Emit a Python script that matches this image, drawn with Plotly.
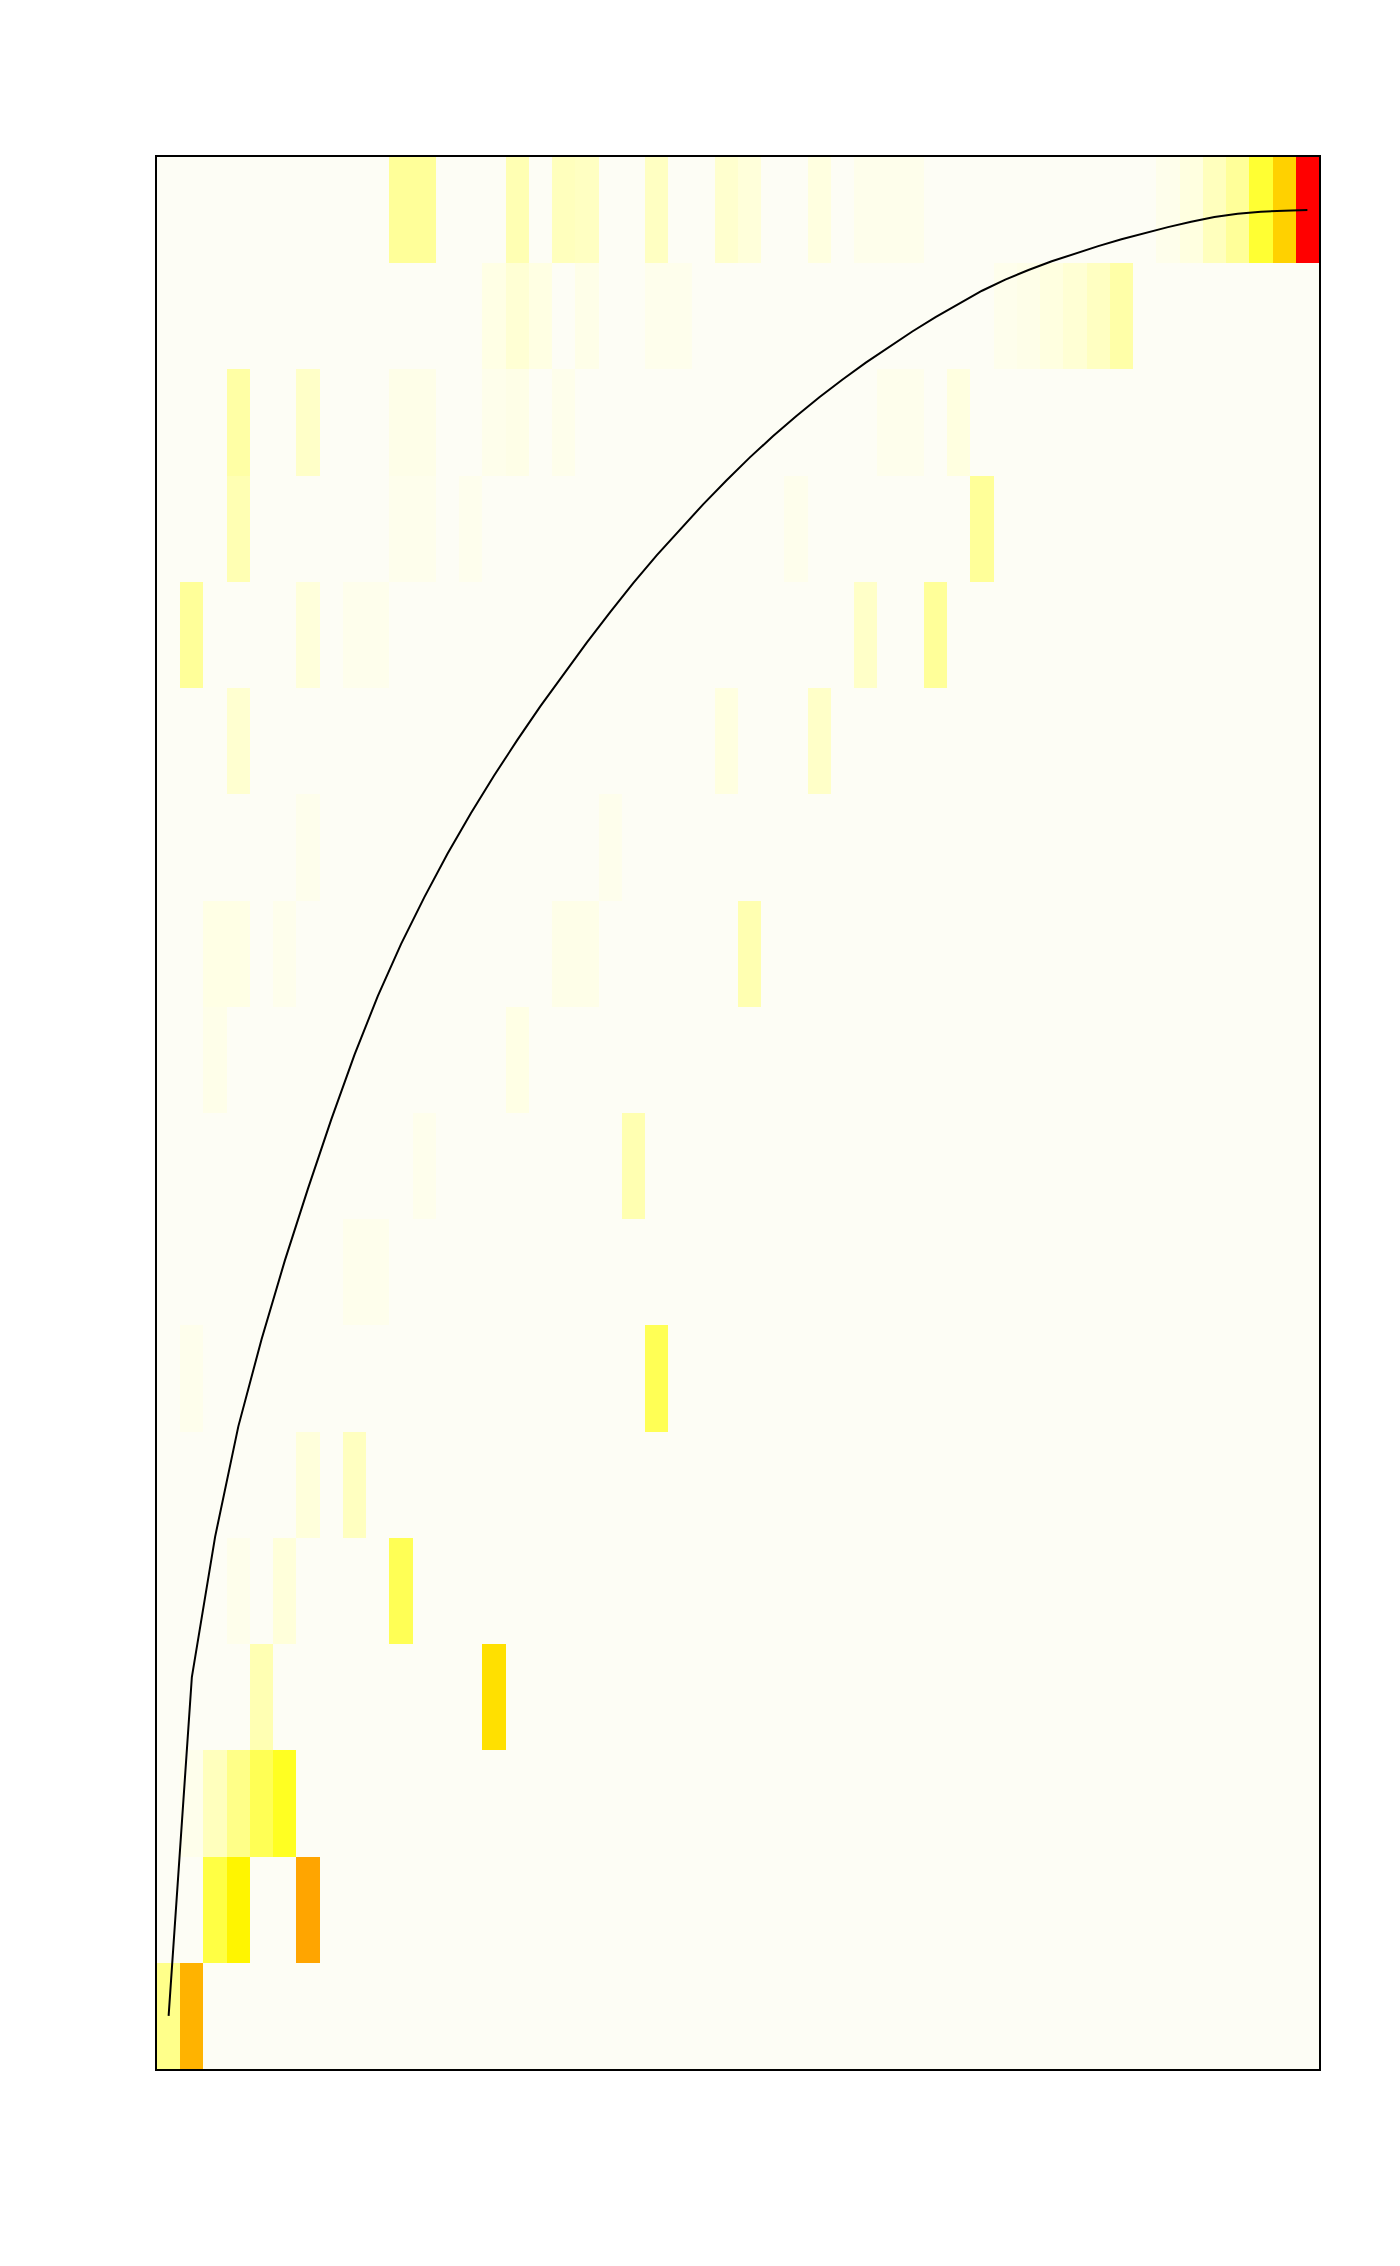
import plotly.graph_objects as go

n_cols = 50
n_rows = 18

# Non-background cells: (row from bottom, column from left, intensity 0..1)
cell_rows = ([0] * 2 + [1] * 3 + [2] * 5 + [3] * 2 + [4] * 3 + [5] * 2 + [6] * 2 +
             [7] * 2 + [8] * 2 + [9] * 2 + [10] * 6 + [11] * 2 + [12] * 3 +
             [13] * 6 + [14] * 6 + [15] * 10 + [16] * 12 + [17] * 19)
cell_cols = [0, 1,
             2, 3, 6,
             1, 2, 3, 4, 5,
             4, 14,
             3, 5, 10,
             6, 8,
             1, 21,
             8, 9,
             11, 20,
             2, 15,
             2, 3, 5, 17, 18, 25,
             6, 19,
             3, 24, 28,
             1, 6, 8, 9, 30, 33,
             3, 10, 11, 13, 27, 35,
             3, 6, 10, 11, 14, 15, 17, 31, 32, 34,
             14, 15, 16, 18, 21, 22, 36, 37, 38, 39, 40, 41,
             10, 11, 15, 17, 18, 21, 24, 25, 28, 30, 31, 32, 43, 44, 45, 46, 47, 48, 49]
cell_vals = [0.215, 0.60,
             0.283, 0.39, 0.70,
             0.04, 0.14, 0.217, 0.267, 0.32,
             0.156, 0.45,
             0.04, 0.09, 0.267,
             0.088, 0.134,
             0.035, 0.267,
             0.035, 0.035,
             0.035, 0.16,
             0.045, 0.06,
             0.06, 0.06, 0.035, 0.05, 0.05, 0.16,
             0.035, 0.035,
             0.107, 0.08, 0.12,
             0.20, 0.088, 0.035, 0.035, 0.12, 0.20,
             0.156, 0.035, 0.035, 0.03, 0.035, 0.20,
             0.18, 0.12, 0.05, 0.05, 0.04, 0.055, 0.04, 0.035, 0.035, 0.08,
             0.06, 0.10, 0.07, 0.05, 0.035, 0.035, 0.035, 0.05, 0.08, 0.10, 0.13, 0.175,
             0.20, 0.20, 0.156, 0.14, 0.13, 0.13, 0.11, 0.09, 0.08, 0.04, 0.04, 0.04,
             0.04, 0.08, 0.14, 0.20, 0.30, 0.50, 1.0]
assert len(cell_rows) == len(cell_cols) == len(cell_vals)

# Cumulative curve (row units, row centres at 1..18) read at each column centre
curve_y = [1.00, 4.19, 5.51, 6.55, 7.37, 8.11, 8.79, 9.44, 10.05, 10.60,
           11.09, 11.53, 11.94, 12.32, 12.675, 13.01, 13.33, 13.635, 13.93, 14.215,
           14.49, 14.75, 14.995, 15.23, 15.455, 15.67, 15.87, 16.06, 16.238, 16.406,
           16.564, 16.714, 16.857, 16.993, 17.121, 17.241, 17.346, 17.436, 17.518, 17.593,
           17.661, 17.725, 17.785, 17.84, 17.89, 17.935, 17.965, 17.985, 17.995, 18.00]

x_centres = list(range(1, n_cols + 1))
y_centres = list(range(1, n_rows + 1))

z = [[0.0] * n_cols for _ in range(n_rows)]
for r, c, v in zip(cell_rows, cell_cols, cell_vals):
    z[r][c] = v

colorscale = [
    [0.00, "#FDFDF5"],
    [0.08, "#FFFFE0"],
    [0.20, "#FFFF99"],
    [0.30, "#FFFF33"],
    [0.36, "#FFFF00"],
    [0.45, "#FFE000"],
    [0.60, "#FFB300"],
    [0.70, "#FFA500"],
    [1.00, "#FF0000"],
]

fig = go.Figure()
fig.add_trace(go.Heatmap(
    z=z, x=x_centres, y=y_centres,
    colorscale=colorscale, zmin=0, zmax=1,
    showscale=False, hoverinfo="skip",
))
fig.add_trace(go.Scatter(
    x=x_centres, y=curve_y, mode="lines",
    line=dict(color="black", width=2),
    showlegend=False, hoverinfo="skip",
))

fig.update_layout(
    width=1400, height=2266,
    margin=dict(l=157, r=81, t=157, b=197),
    paper_bgcolor="white", plot_bgcolor="white",
    showlegend=False,
)
fig.update_xaxes(range=[0.5, n_cols + 0.5], showgrid=False, zeroline=False,
                 showticklabels=False, ticks="", showline=True, mirror=True,
                 linecolor="black", linewidth=1.5)
fig.update_yaxes(range=[0.5, n_rows + 0.5], showgrid=False, zeroline=False,
                 showticklabels=False, ticks="", showline=True, mirror=True,
                 linecolor="black", linewidth=1.5)

fig.write_html("out.html")
